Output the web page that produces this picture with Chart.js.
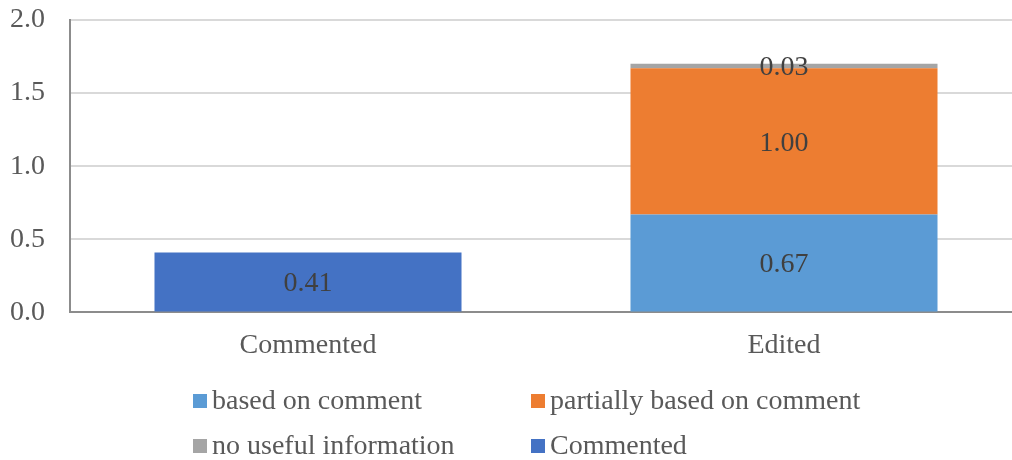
<!DOCTYPE html>
<html>
<head>
<meta charset="utf-8">
<script src="https://cdn.jsdelivr.net/npm/chart.js@4/dist/chart.umd.min.js"></script>
<style>
  html, body { margin: 0; padding: 0; background: #fff; overflow: hidden; }
  #wrap { width: 1012px; height: 460px; position: relative; overflow: hidden; }
</style>
</head>
<body>
<div id="wrap"><canvas id="chart" width="1024" height="460"></canvas></div>
<script>
// categories and stacked series
const categories = ['Commented', 'Edited'];
const basedOnComment = [null, 0.67];
const partiallyBased = [null, 1.00];
const noUsefulInfo = [null, 0.03];
const commented = [0.41, null];
const yTicks = [0, 0.5, 1.0, 1.5, 2.0];

const FONT = '"Liberation Serif", "Times New Roman", serif';
const TEXT = '#595959';

const series = [
    { label: 'based on comment', data: basedOnComment, color: '#5B9BD5' },
    { label: 'partially based on comment', data: partiallyBased, color: '#ED7D31' },
    { label: 'no useful information', data: noUsefulInfo, color: '#A5A5A5' },
    { label: 'Commented', data: commented, color: '#4472C4' }
];

// value labels centred in each segment
const valueLabels = {
    id: 'valueLabels',
    afterDatasetsDraw(chart) {
        const ctx = chart.ctx;
        ctx.save();
        ctx.font = '28px ' + FONT;
        ctx.fillStyle = '#404040';
        ctx.textAlign = 'center';
        ctx.textBaseline = 'middle';
        chart.data.datasets.forEach((ds, i) => {
            chart.getDatasetMeta(i).data.forEach((bar, j) => {
                const v = ds.data[j];
                if (v === null || v === undefined) return;
                const { x, y, base } = bar.getProps(['x', 'y', 'base'], true);
                ctx.fillText(v.toFixed(2), x, (y + base) / 2 + 2);
            });
        });
        ctx.restore();
    }
};

// two-column legend under the axis
const gridLegend = {
    id: 'gridLegend',
    afterDraw(chart) {
        const ctx = chart.ctx;
        const cols = [193, 531];
        const rows = [401, 446];
        ctx.save();
        ctx.font = '28px ' + FONT;
        ctx.textBaseline = 'middle';
        ctx.textAlign = 'left';
        series.forEach((s, i) => {
            const x = cols[i % 2];
            const y = rows[Math.floor(i / 2)];
            ctx.fillStyle = s.color;
            ctx.fillRect(x, y - 7, 14, 14);
            ctx.fillStyle = TEXT;
            ctx.fillText(s.label, x + 19, y + 1);
        });
        ctx.restore();
    }
};

new Chart(document.getElementById('chart'), {
    type: 'bar',
    data: {
        labels: categories,
        datasets: series.map(s => ({
            label: s.label,
            data: s.data,
            backgroundColor: s.color,
            borderWidth: 0,
            stack: 'a',
            barPercentage: 0.645,
            categoryPercentage: 1.0,
            skipNull: true
        }))
    },
    options: {
        responsive: false,
        animation: false,
        layout: { padding: { top: 20, right: 2, bottom: 82, left: 10 } },
        plugins: {
            legend: { display: false },
            tooltip: { enabled: false }
        },
        scales: {
            x: {
                stacked: true,
                grid: { display: false, drawTicks: false },
                border: { color: '#8c8c8c', width: 2 },
                ticks: { color: TEXT, font: { family: FONT, size: 28 }, padding: 16 }
            },
            y: {
                stacked: true,
                min: 0,
                max: 2,
                afterBuildTicks(axis) { axis.ticks = yTicks.map(v => ({ value: v })); },
                afterFit(axis) { axis.width = 60; axis.paddingTop = 0; },
                grid: { color: '#d9d9d9', lineWidth: 2, drawTicks: false },
                border: { color: '#8c8c8c', width: 2 },
                ticks: {
                    color: TEXT,
                    font: { family: FONT, size: 28 },
                    padding: 25,
                    callback: v => v.toFixed(1)
                }
            }
        }
    },
    plugins: [valueLabels, gridLegend]
});
</script>
</body>
</html>
